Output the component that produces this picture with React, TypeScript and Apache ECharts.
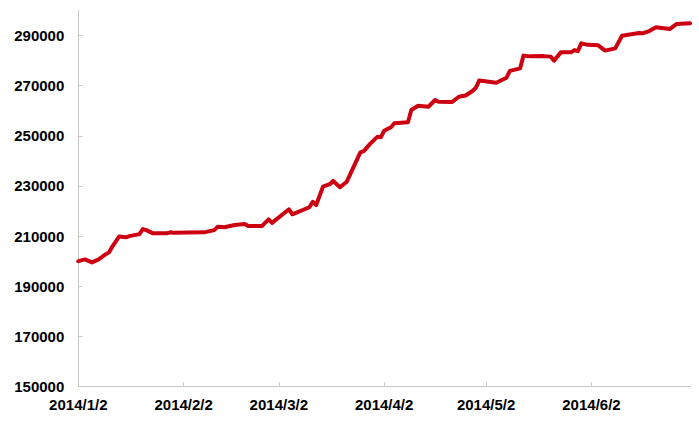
import React, { useEffect, useRef } from "react";
import * as echarts from "echarts";

// Readings (date, value)
const pointDates: string[] = [
  "2014/1/2", "2014/1/4", "2014/1/6", "2014/1/8", "2014/1/10", "2014/1/11", "2014/1/12", "2014/1/14",
  "2014/1/16", "2014/1/17", "2014/1/20", "2014/1/21", "2014/1/22", "2014/1/24", "2014/1/28", "2014/1/29",
  "2014/1/30", "2014/2/8", "2014/2/11", "2014/2/12", "2014/2/14", "2014/2/17", "2014/2/20", "2014/2/21",
  "2014/2/25", "2014/2/27", "2014/2/28", "2014/3/5", "2014/3/6", "2014/3/11", "2014/3/12", "2014/3/13",
  "2014/3/15", "2014/3/17", "2014/3/18", "2014/3/20", "2014/3/22", "2014/3/26", "2014/3/27", "2014/3/29",
  "2014/3/31", "2014/4/1", "2014/4/2", "2014/4/4", "2014/4/5", "2014/4/9", "2014/4/10", "2014/4/12",
  "2014/4/15", "2014/4/17", "2014/4/18", "2014/4/22", "2014/4/24", "2014/4/26", "2014/4/28", "2014/4/29",
  "2014/4/30", "2014/5/5", "2014/5/8", "2014/5/9", "2014/5/12", "2014/5/13", "2014/5/15", "2014/5/19",
  "2014/5/21", "2014/5/22", "2014/5/24", "2014/5/27", "2014/5/28", "2014/5/29", "2014/5/30", "2014/6/1",
  "2014/6/4", "2014/6/6", "2014/6/9", "2014/6/11", "2014/6/16", "2014/6/17", "2014/6/19", "2014/6/21",
  "2014/6/25", "2014/6/27", "2014/7/1",
];
const pointValues: number[] = [
  200000, 200700, 199500, 200700, 202700, 203500, 205800, 209800,
  209500, 210000, 210800, 212800, 212400, 211100, 211100, 211500,
  211300, 211500, 212400, 213700, 213500, 214400, 214800, 214000,
  214000, 216700, 215300, 220700, 218700, 221500, 223700, 222400,
  229700, 230700, 232000, 229500, 231700, 243400, 243900, 247000,
  249600, 249400, 252000, 253400, 255000, 255400, 260300, 262000,
  261600, 264300, 263600, 263500, 265600, 266100, 267900, 269200,
  272100, 271200, 273200, 275900, 276900, 282000, 281700, 281800,
  281600, 280000, 283300, 283300, 284200, 283800, 286900, 286300,
  286100, 284000, 284900, 289900, 291000, 290900, 291800, 293300,
  292600, 294600, 294900,
];
const startDate = "2014/1/2";
const endDate = "2014/7/1";
const yTickValues: number[] = [150000, 170000, 190000, 210000, 230000, 250000, 270000, 290000];

function buildDays(start: string, end: string): string[] {
  const [sy, sm, sd] = start.split("/").map(Number);
  const [ey, em, ed] = end.split("/").map(Number);
  const d = new Date(Date.UTC(sy, sm - 1, sd));
  const e = new Date(Date.UTC(ey, em - 1, ed));
  const out: string[] = [];
  while (d.getTime() <= e.getTime()) {
    out.push(`${d.getUTCFullYear()}/${d.getUTCMonth() + 1}/${d.getUTCDate()}`);
    d.setUTCDate(d.getUTCDate() + 1);
  }
  return out;
}

export default function App() {
  const ref = useRef<HTMLDivElement>(null);
  useEffect(() => {
    if (!ref.current) return;
    const chart = echarts.init(ref.current, undefined, { renderer: "svg" });
    const days = buildDays(startDate, endDate);
    const map: Record<string, number> = {};
    pointDates.forEach((d, i) => (map[d] = pointValues[i]));
    const data = days.map((d) => (d in map ? map[d] : null));
    const showDay = (idx: number, val: string) => val.split("/")[2] === "2";
    const labelFont = {
      fontFamily: "Liberation Sans, Arial, Helvetica, sans-serif",
      fontWeight: "bold" as const,
      fontSize: 15,
      color: "#000",
    };
    chart.setOption({
      animation: false,
      grid: { left: 78.3, right: 9, top: 10.5, bottom: 36.5, containLabel: false },
      xAxis: {
        type: "category",
        data: days,
        boundaryGap: false,
        axisLine: { show: true, lineStyle: { color: "#c8c8c8", width: 1 } },
        axisTick: { show: true, inside: true, length: 4, interval: showDay, lineStyle: { color: "#c8c8c8" } },
        axisLabel: { ...labelFont, interval: showDay, margin: 10 },
        splitLine: { show: false },
      },
      yAxis: {
        type: "value",
        min: 150000,
        max: 300000,
        axisLine: { show: true, lineStyle: { color: "#c8c8c8", width: 1 } },
        axisTick: { show: true, inside: true, length: 4, customValues: yTickValues, lineStyle: { color: "#c8c8c8" } },
        axisLabel: {
          ...labelFont,
          margin: 14,
          customValues: yTickValues,
          formatter: (v: number) => String(v),
        },
        splitLine: { show: false },
      },
      series: [
        {
          type: "line",
          data,
          connectNulls: true,
          showSymbol: false,
          symbol: "none",
          lineStyle: { color: "#cc0011", width: 4, join: "round", cap: "round" },
          itemStyle: { color: "#cc0011" },
        },
      ],
    });
    return () => chart.dispose();
  }, []);
  return (
    <div
      ref={ref}
      style={{ position: "fixed", left: 0, top: 0, width: 699, height: 423, background: "#fff" }}
    />
  );
}
